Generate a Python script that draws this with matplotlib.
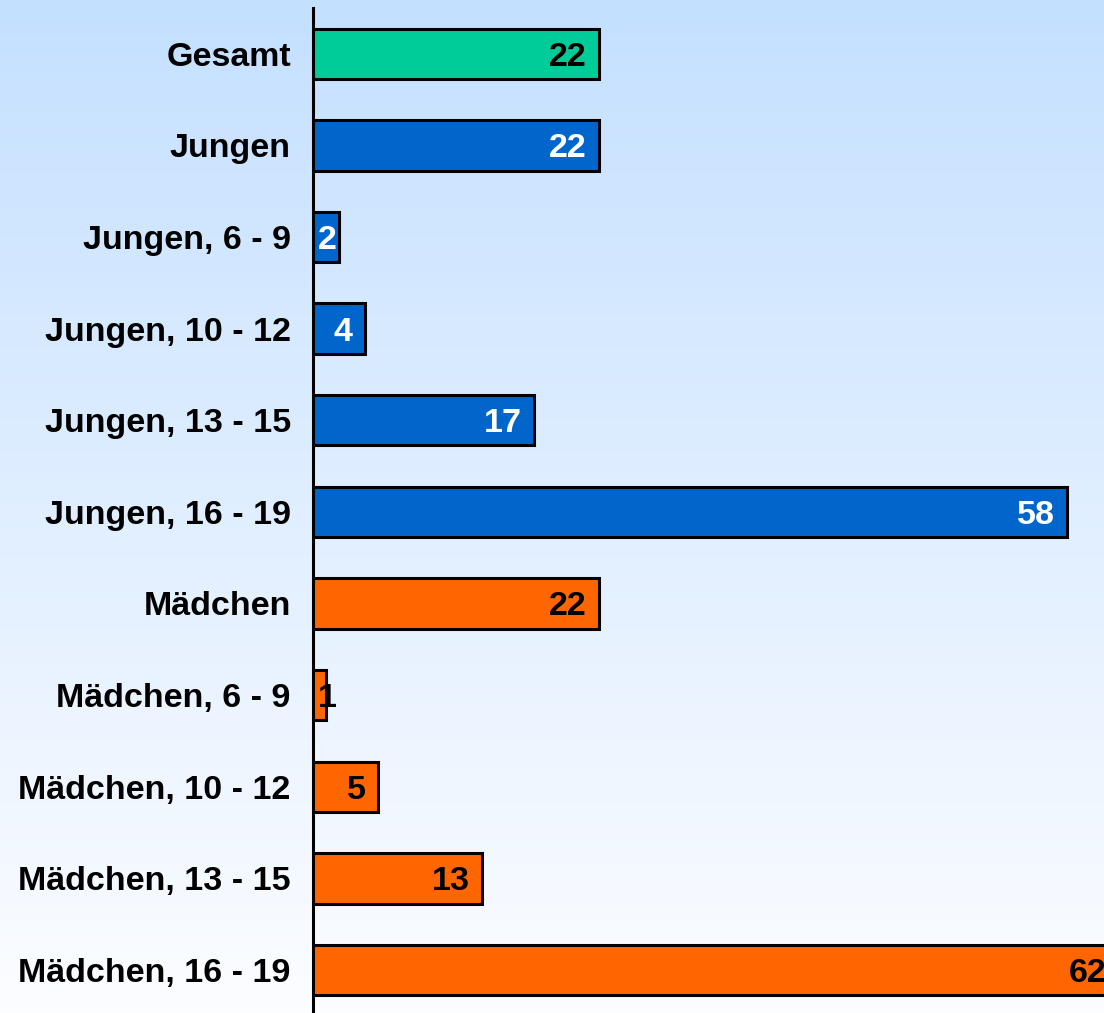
import matplotlib
matplotlib.use("Agg")
import matplotlib.pyplot as plt
import numpy as np

# Data
categories = ["Gesamt", "Jungen", "Jungen, 6 - 9", "Jungen, 10 - 12", "Jungen, 13 - 15",
              "Jungen, 16 - 19", "Mädchen", "Mädchen, 6 - 9", "Mädchen, 10 - 12",
              "Mädchen, 13 - 15", "Mädchen, 16 - 19"]
values = [22, 22, 2, 4, 17, 58, 22, 1, 5, 13, 62]
groups = ["gesamt", "jungen", "jungen", "jungen", "jungen", "jungen",
          "maedchen", "maedchen", "maedchen", "maedchen", "maedchen"]

bar_colors = {"gesamt": "#00CC99", "jungen": "#0066CC", "maedchen": "#FF6600"}
text_colors = {"gesamt": "black", "jungen": "white", "maedchen": "black"}

plt.rcParams["font.family"] = ["Liberation Sans", "DejaVu Sans"]
plt.rcParams["font.weight"] = "bold"

W, H = 1104, 1013
fig = plt.figure(figsize=(W / 100, H / 100), dpi=100)

# gradient background
bg = fig.add_axes([0, 0, 1, 1], zorder=-10)
top = np.array([196, 224, 255]) / 255
bottom = np.array([252, 253, 255]) / 255
t = np.linspace(0, 1, 256)[:, None]
grad = top[None, :] * (1 - t) + bottom[None, :] * t
bg.imshow(grad[:, None, :], aspect="auto", extent=[0, 1, 0, 1])
bg.axis("off")

left, right = 313 / W, 1.0
ax_top, ax_bot = 8, 1013
ax = fig.add_axes([left, 1 - ax_bot / H, right - left, (ax_bot - ax_top) / H])
ax.patch.set_alpha(0)

y = np.arange(len(categories))
ax.barh(y, values, height=0.55, color=[bar_colors[g] for g in groups],
        edgecolor="black", linewidth=2.2, zorder=3)

xmax = (W - 313) / 13.0
ax.set_xlim(0, xmax)
ax.set_ylim(len(categories) - 0.53, -0.5)

for yi, v, g in zip(y, values, groups):
    ax.text(max(v - 0.95, 1.85), yi, str(v), ha="right", va="center_baseline",
            fontsize=24.5, fontweight="bold", color=text_colors[g],
            clip_on=True, zorder=4)

ax.set_yticks(y)
ax.set_yticklabels(categories, fontsize=24.5, fontweight="bold")
ax.tick_params(axis="y", length=0, pad=16)
ax.set_xticks([])
for s in ["top", "right", "bottom"]:
    ax.spines[s].set_visible(False)
ax.spines["left"].set_linewidth(2.2)
ax.spines["left"].set_zorder(5)

fig.savefig("out.png", dpi=100)
